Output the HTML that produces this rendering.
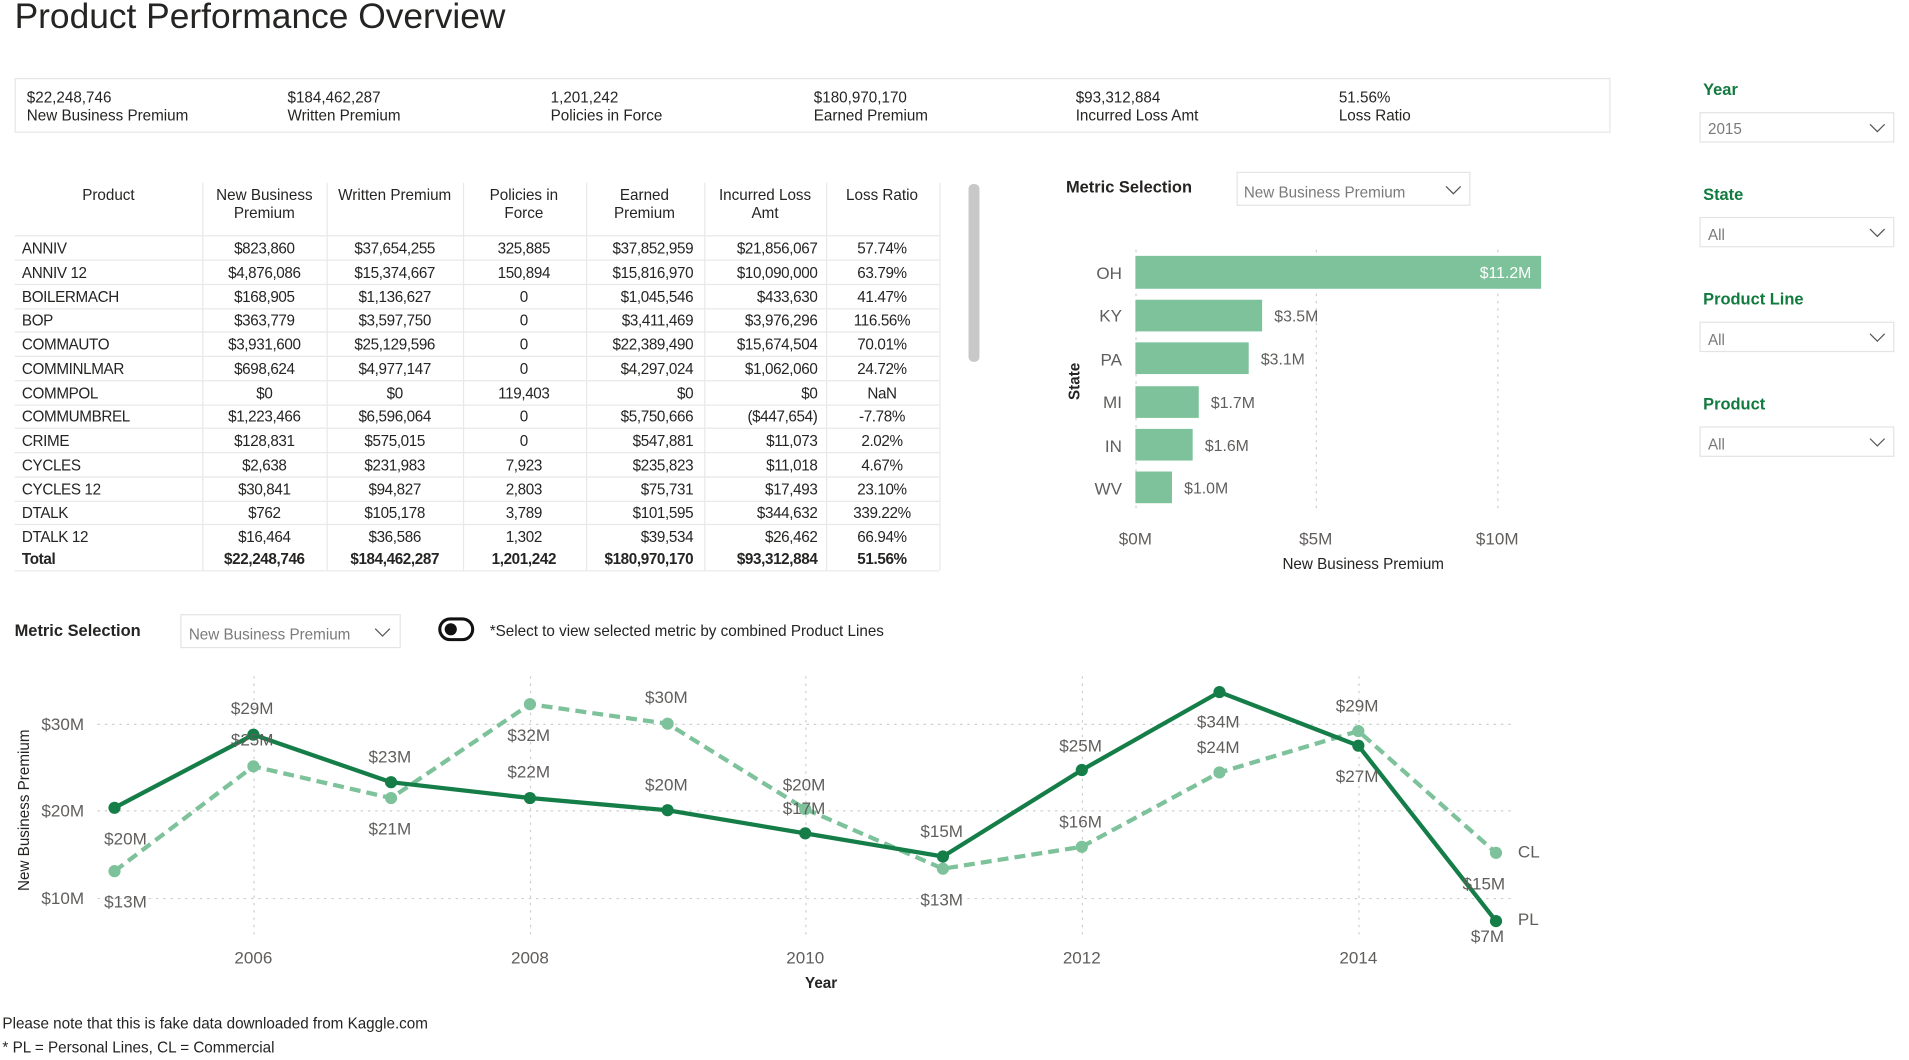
<!DOCTYPE html>
<html><head><meta charset="utf-8"><style>
html,body{margin:0;padding:0;background:#fff;overflow:hidden}
svg{display:block}
text{font-family:"Liberation Sans",sans-serif}
</style></head><body>
<svg width="1909" height="1060" viewBox="0 0 1567 870" preserveAspectRatio="none" xmlns="http://www.w3.org/2000/svg">
<rect width="1567" height="870" fill="#fff"/>
<text x="12" y="23" font-size="29" fill="#252423">Product Performance Overview</text>
<rect x="12.5" y="64.5" width="1309" height="44" fill="#fff" stroke="#e6e6e6"/>
<g font-size="12.5" fill="#252423">
<text x="22" y="84">$22,248,746</text><text x="22" y="99">New Business Premium</text>
<text x="236" y="84">$184,462,287</text><text x="236" y="99">Written Premium</text>
<text x="452" y="84">1,201,242</text><text x="452" y="99">Policies in Force</text>
<text x="668" y="84">$180,970,170</text><text x="668" y="99">Earned Premium</text>
<text x="883" y="84">$93,312,884</text><text x="883" y="99">Incurred Loss Amt</text>
<text x="1099" y="84">51.56%</text><text x="1099" y="99">Loss Ratio</text>
</g>
<g font-size="13.5" font-weight="bold" fill="#117a3f">
<text x="1398" y="78">Year</text><text x="1398" y="164">State</text><text x="1398" y="250">Product Line</text><text x="1398" y="336">Product</text>
</g>
<g fill="#fff" stroke="#e4e4e4">
<rect x="1395.5" y="92.5" width="159" height="24"/><rect x="1395.5" y="178.5" width="159" height="24"/><rect x="1395.5" y="264.5" width="159" height="24"/><rect x="1395.5" y="350.5" width="159" height="24"/>
</g>
<g font-size="12.5" fill="#7a7a7a">
<text x="1402" y="110">2015</text><text x="1402" y="197">All</text><text x="1402" y="283">All</text><text x="1402" y="369">All</text>
</g>
<g fill="none" stroke="#555" stroke-width="1">
<path d="M1535 102l6 6 6-6"/><path d="M1535 188l6 6 6-6"/><path d="M1535 274l6 6 6-6"/><path d="M1535 360l6 6 6-6"/>
</g>
<g stroke="#e8e8e8" stroke-width="1">
<line x1="166.5" y1="150" x2="166.5" y2="468"/><line x1="268.5" y1="150" x2="268.5" y2="468"/><line x1="380.5" y1="150" x2="380.5" y2="468"/><line x1="481.5" y1="150" x2="481.5" y2="468"/><line x1="578.5" y1="150" x2="578.5" y2="468"/><line x1="678.5" y1="150" x2="678.5" y2="468"/><line x1="771.5" y1="150" x2="771.5" y2="468"/>
<line x1="12" y1="193.5" x2="771" y2="193.5"/>
<line x1="12" y1="213.5" x2="771" y2="213.5"/><line x1="12" y1="233.5" x2="771" y2="233.5"/><line x1="12" y1="253.5" x2="771" y2="253.5"/><line x1="12" y1="272.5" x2="771" y2="272.5"/><line x1="12" y1="292.5" x2="771" y2="292.5"/><line x1="12" y1="312.5" x2="771" y2="312.5"/><line x1="12" y1="332.5" x2="771" y2="332.5"/><line x1="12" y1="351.5" x2="771" y2="351.5"/><line x1="12" y1="371.5" x2="771" y2="371.5"/><line x1="12" y1="391.5" x2="771" y2="391.5"/><line x1="12" y1="411.5" x2="771" y2="411.5"/><line x1="12" y1="430.5" x2="771" y2="430.5"/><line x1="12" y1="468.5" x2="771" y2="468.5"/>
</g>
<rect x="795" y="151" width="9" height="146" rx="4" fill="#c8c8c8"/>
<g font-size="12.5" fill="#252423" text-anchor="middle">
<text x="89" y="164">Product</text>
<text x="217" y="164">New Business</text><text x="217" y="179">Premium</text>
<text x="324" y="164">Written Premium</text>
<text x="430" y="164">Policies in</text><text x="430" y="179">Force</text>
<text x="529" y="164">Earned</text><text x="529" y="179">Premium</text>
<text x="628" y="164">Incurred Loss</text><text x="628" y="179">Amt</text>
<text x="724" y="164">Loss Ratio</text>
</g>
<g font-size="12.5" fill="#252423" letter-spacing="-0.3">
<g text-anchor="start">
<text x="18" y="208">ANNIV</text><text x="18" y="228">ANNIV 12</text><text x="18" y="248">BOILERMACH</text><text x="18" y="267">BOP</text><text x="18" y="287">COMMAUTO</text><text x="18" y="307">COMMINLMAR</text><text x="18" y="327">COMMPOL</text><text x="18" y="346">COMMUMBREL</text><text x="18" y="366">CRIME</text><text x="18" y="386">CYCLES</text><text x="18" y="406">CYCLES 12</text><text x="18" y="425">DTALK</text><text x="18" y="445">DTALK 12</text>
<text x="18" y="463" font-weight="bold">Total</text>
</g>
<g text-anchor="middle">
<text x="217" y="208">$823,860</text><text x="217" y="228">$4,876,086</text><text x="217" y="248">$168,905</text><text x="217" y="267">$363,779</text><text x="217" y="287">$3,931,600</text><text x="217" y="307">$698,624</text><text x="217" y="327">$0</text><text x="217" y="346">$1,223,466</text><text x="217" y="366">$128,831</text><text x="217" y="386">$2,638</text><text x="217" y="406">$30,841</text><text x="217" y="425">$762</text><text x="217" y="445">$16,464</text><text x="217" y="463" font-weight="bold">$22,248,746</text>
<text x="324" y="208">$37,654,255</text><text x="324" y="228">$15,374,667</text><text x="324" y="248">$1,136,627</text><text x="324" y="267">$3,597,750</text><text x="324" y="287">$25,129,596</text><text x="324" y="307">$4,977,147</text><text x="324" y="327">$0</text><text x="324" y="346">$6,596,064</text><text x="324" y="366">$575,015</text><text x="324" y="386">$231,983</text><text x="324" y="406">$94,827</text><text x="324" y="425">$105,178</text><text x="324" y="445">$36,586</text><text x="324" y="463" font-weight="bold">$184,462,287</text>
<text x="430" y="208">325,885</text><text x="430" y="228">150,894</text><text x="430" y="248">0</text><text x="430" y="267">0</text><text x="430" y="287">0</text><text x="430" y="307">0</text><text x="430" y="327">119,403</text><text x="430" y="346">0</text><text x="430" y="366">0</text><text x="430" y="386">7,923</text><text x="430" y="406">2,803</text><text x="430" y="425">3,789</text><text x="430" y="445">1,302</text><text x="430" y="463" font-weight="bold">1,201,242</text>
<text x="724" y="208">57.74%</text><text x="724" y="228">63.79%</text><text x="724" y="248">41.47%</text><text x="724" y="267">116.56%</text><text x="724" y="287">70.01%</text><text x="724" y="307">24.72%</text><text x="724" y="327">NaN</text><text x="724" y="346">-7.78%</text><text x="724" y="366">2.02%</text><text x="724" y="386">4.67%</text><text x="724" y="406">23.10%</text><text x="724" y="425">339.22%</text><text x="724" y="445">66.94%</text><text x="724" y="463" font-weight="bold">51.56%</text>
</g>
<g text-anchor="end">
<text x="569" y="208">$37,852,959</text><text x="569" y="228">$15,816,970</text><text x="569" y="248">$1,045,546</text><text x="569" y="267">$3,411,469</text><text x="569" y="287">$22,389,490</text><text x="569" y="307">$4,297,024</text><text x="569" y="327">$0</text><text x="569" y="346">$5,750,666</text><text x="569" y="366">$547,881</text><text x="569" y="386">$235,823</text><text x="569" y="406">$75,731</text><text x="569" y="425">$101,595</text><text x="569" y="445">$39,534</text><text x="569" y="463" font-weight="bold">$180,970,170</text>
<text x="671" y="208">$21,856,067</text><text x="671" y="228">$10,090,000</text><text x="671" y="248">$433,630</text><text x="671" y="267">$3,976,296</text><text x="671" y="287">$15,674,504</text><text x="671" y="307">$1,062,060</text><text x="671" y="327">$0</text><text x="671" y="346">($447,654)</text><text x="671" y="366">$11,073</text><text x="671" y="386">$11,018</text><text x="671" y="406">$17,493</text><text x="671" y="425">$344,632</text><text x="671" y="445">$26,462</text><text x="671" y="463" font-weight="bold">$93,312,884</text>
</g>
</g>
<text x="875" y="158" font-size="13.5" font-weight="bold" fill="#252423">Metric Selection</text>
<rect x="1015.5" y="141.5" width="191" height="27" fill="#fff" stroke="#e4e4e4"/>
<text x="1021" y="162" font-size="12.5" fill="#7a7a7a">New Business Premium</text>
<path d="M1187 153l6 6 6-6" fill="none" stroke="#555"/>
<g stroke="#cfcfcf" stroke-dasharray="2,4">
<line x1="932.5" y1="205" x2="932.5" y2="420"/><line x1="1080.5" y1="205" x2="1080.5" y2="420"/><line x1="1229.5" y1="205" x2="1229.5" y2="420"/>
</g>
<g fill="#7dc29a">
<rect x="932" y="210" width="333" height="27"/><rect x="932" y="246" width="104" height="26"/><rect x="932" y="281" width="93" height="26"/><rect x="932" y="317" width="52" height="26"/><rect x="932" y="352" width="47" height="26"/><rect x="932" y="387" width="30" height="26"/>
</g>
<g font-size="14" fill="#605e5c" text-anchor="end">
<text x="921" y="229">OH</text><text x="921" y="264">KY</text><text x="921" y="300">PA</text><text x="921" y="335">MI</text><text x="921" y="371">IN</text><text x="921" y="406">WV</text>
</g>
<text x="1257" y="228" font-size="13" fill="#fff" text-anchor="end">$11.2M</text>
<g font-size="13" fill="#605e5c">
<text x="1046" y="264">$3.5M</text><text x="1035" y="299">$3.1M</text><text x="994" y="335">$1.7M</text><text x="989" y="370">$1.6M</text><text x="972" y="405">$1.0M</text>
</g>
<g font-size="14" fill="#605e5c" text-anchor="middle">
<text x="932" y="447">$0M</text><text x="1080" y="447">$5M</text><text x="1229" y="447">$10M</text>
</g>
<text x="1119" y="467" font-size="12.5" fill="#252423" text-anchor="middle">New Business Premium</text>
<text transform="translate(886,313) rotate(-90)" font-size="12.5" font-weight="bold" fill="#252423" text-anchor="middle">State</text>
<text x="12" y="522" font-size="13.5" font-weight="bold" fill="#252423">Metric Selection</text>
<rect x="148.5" y="504.5" width="180" height="27" fill="#fff" stroke="#e4e4e4"/>
<text x="155" y="525" font-size="12.5" fill="#7a7a7a">New Business Premium</text>
<path d="M308 516l6 6 6-6" fill="none" stroke="#555"/>
<rect x="361" y="508" width="27" height="17" rx="8.5" fill="#fff" stroke="#111" stroke-width="2.5"/>
<circle cx="370" cy="516.5" r="5" fill="#111"/>
<text x="402" y="522" font-size="12.5" fill="#252423">*Select to view  selected metric by combined Product Lines</text>
<g stroke="#cfcfcf" stroke-dasharray="2,4">
<line x1="80" y1="594.5" x2="1240" y2="594.5"/><line x1="80" y1="665.5" x2="1240" y2="665.5"/><line x1="80" y1="737.5" x2="1240" y2="737.5"/>
<line x1="208.5" y1="555" x2="208.5" y2="770"/><line x1="435.5" y1="555" x2="435.5" y2="770"/><line x1="661.5" y1="555" x2="661.5" y2="770"/><line x1="888.5" y1="555" x2="888.5" y2="770"/><line x1="1115.5" y1="555" x2="1115.5" y2="770"/>
</g>
<g font-size="14" fill="#605e5c">
<text x="69" y="599" text-anchor="end">$30M</text><text x="69" y="670" text-anchor="end">$20M</text><text x="69" y="742" text-anchor="end">$10M</text>
<g text-anchor="middle"><text x="208" y="791">2006</text><text x="435" y="791">2008</text><text x="661" y="791">2010</text><text x="888" y="791">2012</text><text x="1115" y="791">2014</text></g>
</g>
<text x="674" y="811" font-size="12.5" font-weight="bold" fill="#252423" text-anchor="middle">Year</text>
<text transform="translate(24,665) rotate(-90)" font-size="12.5" fill="#252423" text-anchor="middle">New Business Premium</text>
<polyline fill="none" stroke="#7dc29a" stroke-width="3.5" stroke-dasharray="9,5" points="94,715 208,629 321,655 435,578 548,594 661,664 774,713 888,695 1001,634 1115,600 1228,700"/>
<g fill="#7dc29a"><circle cx="94" cy="715" r="5"/><circle cx="208" cy="629" r="5"/><circle cx="321" cy="655" r="5"/><circle cx="435" cy="578" r="5"/><circle cx="548" cy="594" r="5"/><circle cx="661" cy="664" r="5"/><circle cx="774" cy="713" r="5"/><circle cx="888" cy="695" r="5"/><circle cx="1001" cy="634" r="5"/><circle cx="1115" cy="600" r="5"/><circle cx="1228" cy="700" r="5"/></g>
<polyline fill="none" stroke="#157d47" stroke-width="3.5" points="94,663 208,603 321,642 435,655 548,665 661,684 774,703 888,632 1001,568 1115,612 1228,756"/>
<g fill="#157d47"><circle cx="94" cy="663" r="5"/><circle cx="208" cy="603" r="5"/><circle cx="321" cy="642" r="5"/><circle cx="435" cy="655" r="5"/><circle cx="548" cy="665" r="5"/><circle cx="661" cy="684" r="5"/><circle cx="774" cy="703" r="5"/><circle cx="888" cy="632" r="5"/><circle cx="1001" cy="568" r="5"/><circle cx="1115" cy="612" r="5"/><circle cx="1228" cy="756" r="5"/></g>
<g font-size="14" fill="#605e5c" text-anchor="middle">
<text x="103" y="693">$20M</text><text x="103" y="745">$13M</text>
<text x="207" y="586">$29M</text><text x="207" y="612">$25M</text>
<text x="320" y="626">$23M</text><text x="320" y="685">$21M</text>
<text x="434" y="608">$32M</text><text x="434" y="638">$22M</text>
<text x="547" y="577">$30M</text><text x="547" y="649">$20M</text>
<text x="660" y="649">$20M</text><text x="660" y="668">$17M</text>
<text x="773" y="687">$15M</text><text x="773" y="743">$13M</text>
<text x="887" y="617">$25M</text><text x="887" y="679">$16M</text>
<text x="1000" y="597">$34M</text><text x="1000" y="618">$24M</text>
<text x="1114" y="584">$29M</text><text x="1114" y="642">$27M</text>
<text x="1218" y="730">$15M</text><text x="1221" y="773">$7M</text>
</g>
<text x="1246" y="704" font-size="14" fill="#605e5c">CL</text>
<text x="1246" y="759" font-size="14" fill="#605e5c">PL</text>
<g font-size="12.5" fill="#252423">
<text x="2" y="844">Please note that this is fake data downloaded from Kaggle.com</text>
<text x="2" y="864">* PL = Personal Lines, CL = Commercial</text>
</g>
</svg>
</body></html>
